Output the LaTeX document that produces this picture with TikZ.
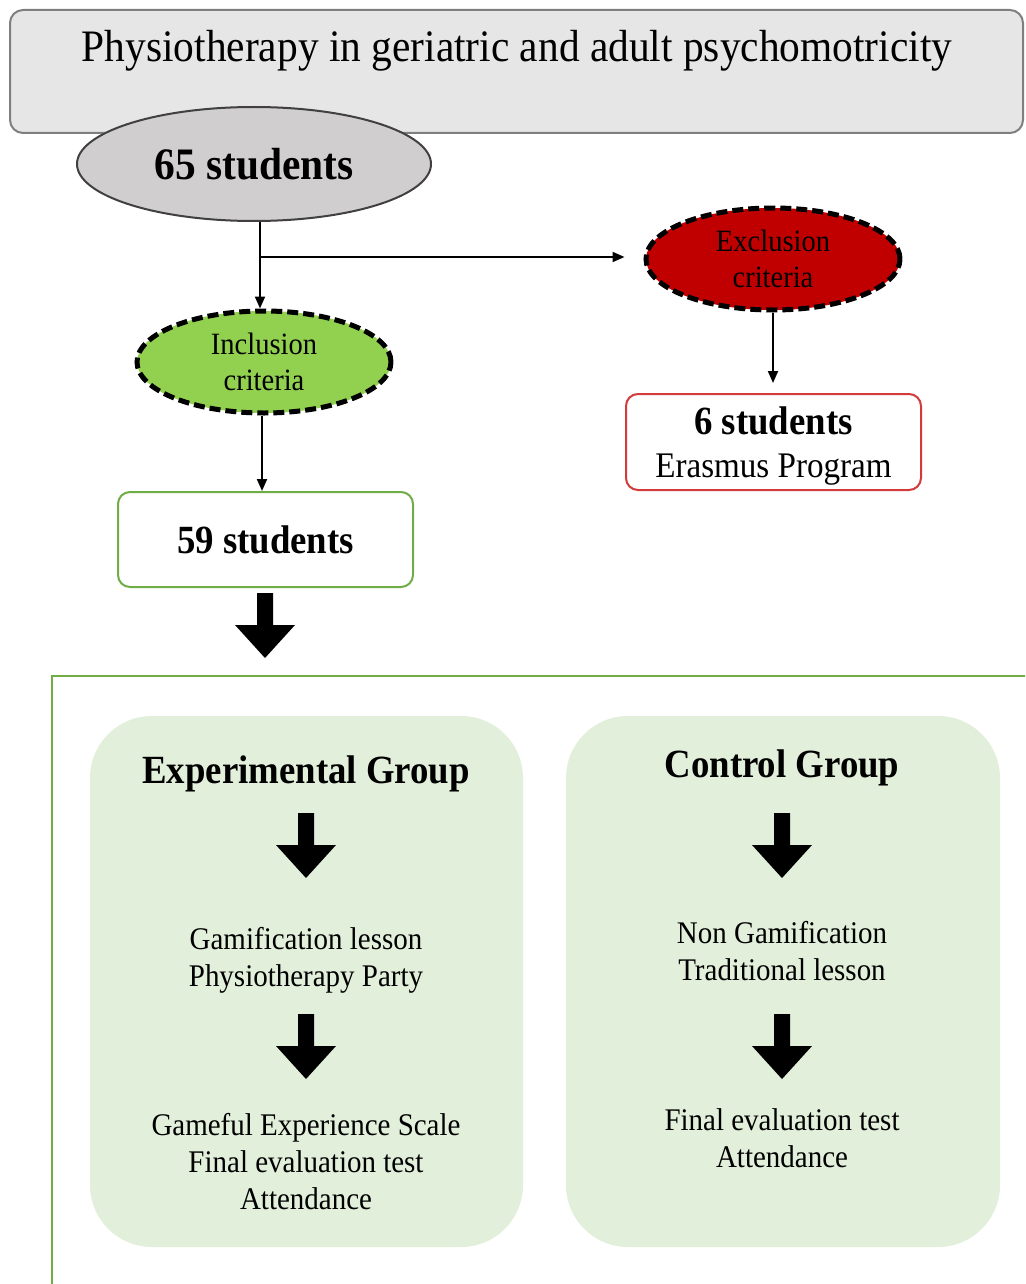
\documentclass[tikz,border=0pt]{standalone}
\usepackage{fontspec}
\setmainfont[FakeStretch=0.92]{Liberation Serif}
\usetikzlibrary{shapes.geometric,arrows.meta}
\definecolor{titlefill}{HTML}{E7E6E6}
\definecolor{titledraw}{HTML}{7F7F7F}
\definecolor{grayfill}{HTML}{D0CECE}
\definecolor{exred}{HTML}{C00000}
\definecolor{ingreen}{HTML}{92D050}
\definecolor{boxgreen}{HTML}{70AD47}
\definecolor{boxred}{HTML}{D33A3A}
\definecolor{groupfill}{HTML}{E2EFDA}
\newcommand\blkarrow[1]{\fill[black] (#1) ++(-8,0) -- ++(16,0) -- ++(0,32) -- ++(22,0) -- ++(-30,33) -- ++(-30,-33) -- ++(22,0) -- cycle;}
\begin{document}
\begin{tikzpicture}[x=1pt,y=-1pt,
  txt/.style={inner sep=0pt, align=center},
  conn/.style={draw=black, line width=2pt, -{Triangle[length=12pt,width=10pt]}},
  critell/.style={ellipse, draw=black, line width=5pt, dash pattern=on 11pt off 5pt,
     minimum width=254pt, minimum height=102pt, inner sep=0pt, align=center,
     font=\fontsize{31}{36}\selectfont},
  stubox/.style={rectangle, rounded corners=12pt, line width=2pt, fill=white,
     minimum width=295pt, minimum height=95pt, inner sep=0pt, align=center},
  groupbox/.style={fill=groupfill, rounded corners=62pt},
  body/.style={txt, anchor=north, font=\fontsize{31.5}{37}\selectfont},
  head/.style={txt, anchor=base, font=\fontsize{40}{46}\bfseries\selectfont},
]
\useasboundingbox (0,0) rectangle (1025,1284);
\clip (0,0) rectangle (1025,1284);

% lower frame and groups
\draw[boxgreen, line width=2pt] (52,1400) -- (52,676) -- (1100,676);
\path[groupbox] (90,716) rectangle (523,1247);
\path[groupbox] (566,716) rectangle (1000,1247);

% title
\node[draw=titledraw, fill=titlefill, line width=2pt, rounded corners=13pt,
      minimum width=1013pt, minimum height=123pt, inner sep=0pt] (titlebox) at (516.5,71.5) {};
\node[txt, anchor=base, font=\fontsize{45}{52}\selectfont] (title) at (517,62)
  {Physiotherapy in geriatric and adult psychomotricity};

% 65 students
\node[ellipse, draw=black!75, fill=grayfill, line width=2pt, minimum width=354pt,
      minimum height=114pt, inner sep=0pt, font=\fontsize{45}{52}\bfseries\selectfont]
      (e65) at (254,164) {65 students};

% criteria
\node[critell, fill=ingreen] (incl) at (264,362) {Inclusion\\criteria};
\node[critell, fill=exred] (excl) at (773,259) {Exclusion\\criteria};

% student boxes
\node[stubox, draw=boxgreen, font=\fontsize{40}{46}\bfseries\selectfont] (s59) at (265.5,539.5) {59 students};
\node[stubox, draw=boxred, minimum height=96pt, font=\fontsize{36}{43}\selectfont] (s6) at (773.5,442)
  {{\fontsize{40}{46}\bfseries\selectfont 6 students}\\
   \raisebox{0pt}[\height][0pt]{Erasmus Program}};

% connectors
\coordinate (split) at (260,257);
\draw[conn] (e65.south -| split) -- (split |- incl.north);
\draw[conn, shorten >=19pt] (split) -- (split -| excl.west);
\draw[conn] (incl.south -| 262,0) -- (262,0 |- s59.north);
\draw[conn, shorten >=10pt] (excl.south) -- (excl.south |- s6.north);

% block arrows
\coordinate (ba1) at (265,593);
\coordinate (ea1) at (306,813);
\coordinate (ea2) at (306,1014);
\coordinate (ca1) at (782,813);
\coordinate (ca2) at (782,1014);
\blkarrow{ba1}
\blkarrow{ea1}
\blkarrow{ea2}
\blkarrow{ca1}
\blkarrow{ca2}

% group texts
\node[head] (exph) at (306,783) {Experimental Group};
\node[head] (ctlh) at (782,777) {Control Group};
\node[body] (expm) at (306,927.5) {Gamification lesson\\Physiotherapy Party};
\node[body] (expb) at (306,1113.5) {Gameful Experience Scale\\Final evaluation test\\Attendance};
\node[body] (ctlm) at (782,921.5) {Non Gamification\\Traditional lesson};
\node[body] (ctlb) at (782,1108.5) {Final evaluation test\\Attendance};
\end{tikzpicture}
\end{document}
